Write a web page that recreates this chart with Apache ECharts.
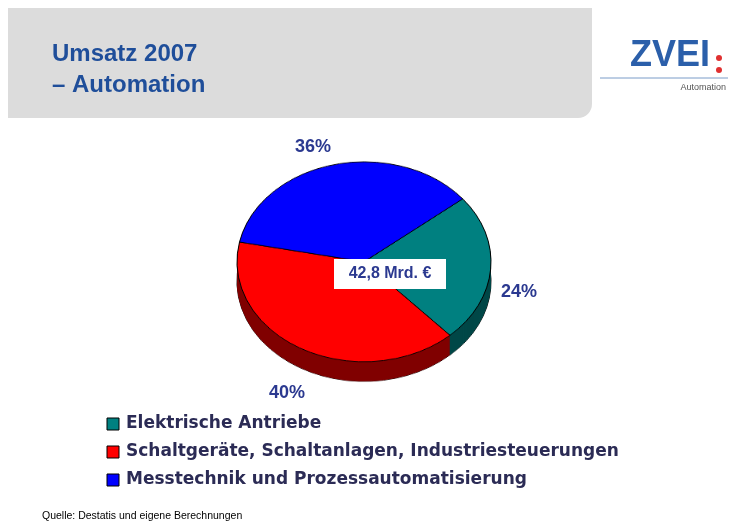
<!DOCTYPE html><html><head><meta charset="utf-8">
<script src="https://cdn.jsdelivr.net/npm/echarts@6/dist/echarts.min.js"></script>
<style>body{margin:0;background:#fff}#main{position:absolute;left:0;top:0;width:744px;height:524px;z-index:2}
#pie{position:absolute;left:234px;top:161px;width:260px;height:300px;transform:scaleY(0.787);transform-origin:0 0;z-index:1}</style>
</head><body><div id="main"></div><div id="pie"></div>
<script>
const categories=['Elektrische Antriebe','Schaltgeräte, Schaltanlagen, Industriesteuerungen','Messtechnik und Prozessautomatisierung'];
const values=[24,40,36];
const topColors=['#008080','#FF0000','#0000FF'];
const sideColors=['#004848','#800000','#000080'];
const pctLabels=['24%','40%','36%'];
const labelPos=[[519,292],[287,393],[313,147]];

const main=echarts.init(document.getElementById('main'));
const g=[
 {type:'text',style:{x:52,y:42,text:'Umsatz 2007',font:'bold 24px Arial, Liberation Sans',fill:'#1F4E9A'}},
 {type:'text',style:{x:52,y:73,text:'– Automation',font:'bold 24px Arial, Liberation Sans',fill:'#1F4E9A'}},
 {type:'text',style:{x:630,y:38,text:'ZVEI',font:'bold 36px Arial, Liberation Sans',fill:'#2B5FAA'}},
 {type:'circle',shape:{cx:719,cy:58,r:3},style:{fill:'#E03030'}},
 {type:'circle',shape:{cx:719,cy:70,r:3},style:{fill:'#E03030'}},
 {type:'line',shape:{x1:600,y1:78,x2:728,y2:78},style:{stroke:'#7A9CC8',lineWidth:1}},
 {type:'text',style:{x:726,y:83,text:'Automation',align:'right',font:'9px Arial, Liberation Sans',fill:'#555'}},
 {type:'text',style:{x:42,y:511,text:'Quelle: Destatis und eigene Berechnungen',font:'10.5px Arial, Liberation Sans',fill:'#000'}},
 {type:'rect',z:100,shape:{x:334,y:259,width:112,height:30},style:{fill:'#fff'}},
 {type:'text',z:101,style:{x:390,y:274,text:'42,8 Mrd. €',align:'center',verticalAlign:'middle',font:'bold 16px Arial, Liberation Sans',fill:'#2B3990'}}
];
categories.forEach((c,i)=>{
 const y=424+i*28;
 g.push({type:'rect',shape:{x:107,y:y-6,width:12,height:12},style:{fill:topColors[i],stroke:'#000',lineWidth:1}});
 g.push({type:'text',style:{x:126,y:y,text:c,verticalAlign:'middle',font:'bold 17px DejaVu Sans',fill:'#2B2B55'}});
 g.push({type:'text',style:{x:labelPos[i][0],y:labelPos[i][1],text:pctLabels[i],align:'center',verticalAlign:'middle',font:'bold 18px Arial, Liberation Sans',fill:'#2B3990'}});
});
main.setOption({animation:false,graphic:g});
document.body.insertAdjacentHTML('afterbegin','<div style="position:absolute;left:8px;top:8px;width:584px;height:110px;background:#DCDCDC;border-bottom-right-radius:14px;z-index:0"></div>');

const pie=echarts.init(document.getElementById('pie'));
const series=[];
const depth=25;
for(let k=depth;k>0;k-=1){
 series.push({type:'pie',silent:true,radius:127,center:[130,128+k],startAngle:39,clockwise:true,label:{show:false},labelLine:{show:false},
  data:values.map((v,i)=>({value:v,name:categories[i],itemStyle:{color:sideColors[i]}})),itemStyle:{borderWidth:0}});
}
series.push({type:'pie',silent:true,radius:127,center:[130,128],startAngle:39,clockwise:true,label:{show:false},labelLine:{show:false},
 data:values.map((v,i)=>({value:v,name:categories[i],itemStyle:{color:topColors[i],borderColor:'#000',borderWidth:1}}))});
series.push({type:'pie',silent:true,radius:127,center:[130,128+depth],startAngle:39,label:{show:false},labelLine:{show:false},z:0,
 data:values.map((v,i)=>({value:v,itemStyle:{color:'rgba(0,0,0,0)',borderColor:'#000',borderWidth:1}}))});
pie.setOption({animation:false,series});
</script></body></html>
